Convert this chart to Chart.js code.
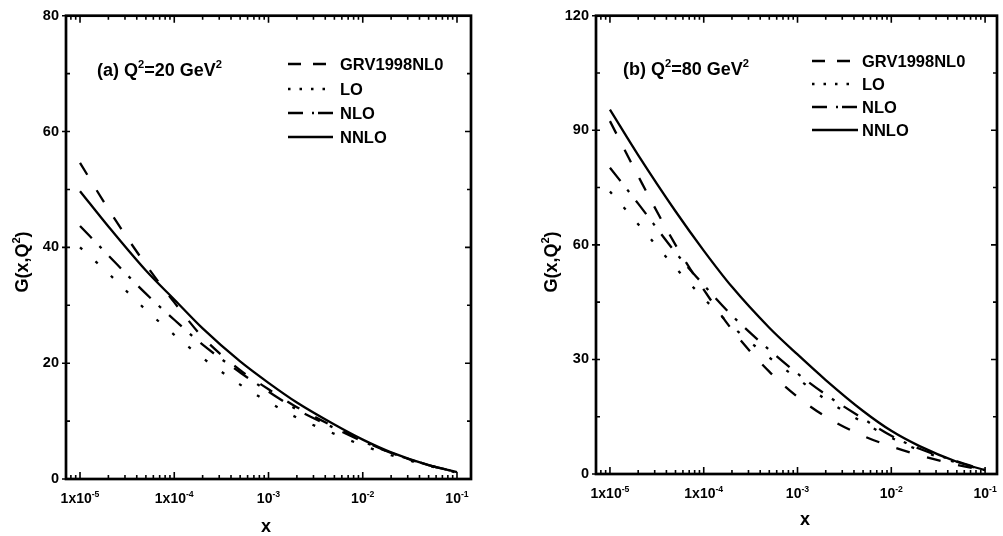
<!DOCTYPE html>
<html>
<head>
<meta charset="utf-8">
<style>
  html, body { margin: 0; padding: 0; background: #fff; }
  #wrap { position: relative; width: 1003px; height: 536px; }
  .panel { position: absolute; top: 0; height: 536px; }
  #panelA { left: 0; width: 500px; }
  #panelB { left: 500px; width: 503px; }
</style>
</head>
<body>
<div id="wrap">
  <div class="panel" id="panelA"><canvas id="chartA"></canvas></div>
  <div class="panel" id="panelB"><canvas id="chartB"></canvas></div>
</div>
<script src="https://cdn.jsdelivr.net/npm/chart.js"></script>
<script>
// x grid shared by all curves
var xValues = [1e-5, 2e-5, 5e-5, 1e-4, 2e-4, 5e-4, 1e-3, 2e-3, 5e-3, 1e-2, 2e-2, 5e-2, 1e-1];

// (a) Q^2 = 20 GeV^2
var grvA  = [54.6, 46.6, 37.0, 30.5, 24.5, 18.8, 15.5, 12.4, 9.0, 6.6, 4.5, 2.4, 1.2];
var loA   = [40.0, 35.5, 29.2, 24.9, 20.9, 16.3, 13.3, 10.6, 7.8, 5.8, 4.1, 2.3, 1.1];
var nloA  = [43.7, 38.6, 32.0, 27.5, 23.2, 18.4, 15.1, 12.0, 8.8, 6.5, 4.5, 2.4, 1.2];
var nnloA = [49.7, 43.6, 36.0, 31.0, 26.0, 20.3, 16.6, 13.2, 9.4, 6.8, 4.6, 2.4, 1.2];

// (b) Q^2 = 80 GeV^2
var grvB  = [92.4, 78.0, 60.0, 48.3, 37.8, 26.8, 20.2, 15.0, 10.0, 7.2, 4.9, 2.4, 1.0];
var loB   = [74.0, 65.4, 54.0, 46.0, 38.7, 30.5, 25.0, 19.5, 13.5, 9.5, 6.2, 3.0, 1.0];
var nloB  = [80.2, 70.8, 58.0, 49.5, 41.5, 32.5, 26.3, 20.8, 14.5, 10.0, 6.6, 3.3, 1.0];
var nnloB = [95.4, 83.5, 68.8, 58.5, 49.0, 38.3, 31.3, 24.6, 16.5, 11.3, 7.3, 3.2, 1.0];

var seriesNames = ['GRV1998NL0', 'LO', 'NLO', 'NNLO'];
var xMajorTicks = [1e-5, 1e-4, 1e-3, 1e-2, 1e-1];
var xTickLabels = [['1x10', '-5'], ['1x10', '-4'], ['10', '-3'], ['10', '-2'], ['10', '-1']];

var FONT = '"Liberation Sans", Arial, sans-serif';
var curveDash = [[14, 18], [3, 18], [17, 11, 3, 11], []];
var legendDash = [[13, 12], [2.5, 9], [15, 9, 2, 4], []];

function makeDatasets(list) {
  return list.map(function(vals, i) {
    return {
      label: seriesNames[i],
      data: xValues.map(function(x, j) { return { x: x, y: vals[j] }; }),
      borderColor: '#000',
      borderWidth: 2.3,
      borderDash: curveDash[i],
      pointRadius: 0,
      fill: false,
      cubicInterpolationMode: 'monotone'
    };
  });
}

// text with superscript pieces: parts = [[text, isSup], ...]
function drawRich(ctx, parts, x, y, size, align) {
  var supSize = size * 0.62;
  var w = 0;
  parts.forEach(function(p) {
    ctx.font = 'bold ' + (p[1] ? supSize : size) + 'px ' + FONT;
    w += ctx.measureText(p[0]).width;
  });
  var cx = align === 'center' ? x - w / 2 : x;
  ctx.textAlign = 'left';
  ctx.textBaseline = 'alphabetic';
  parts.forEach(function(p) {
    ctx.font = 'bold ' + (p[1] ? supSize : size) + 'px ' + FONT;
    ctx.fillText(p[0], cx, p[1] ? y - size * 0.42 : y);
    cx += ctx.measureText(p[0]).width;
  });
}

var framePlugin = {
  id: 'frame',
  afterDraw: function(chart, args, o) {
    var ctx = chart.ctx, a = chart.chartArea;
    var xs = chart.scales.x, ys = chart.scales.y;
    ctx.save();
    ctx.strokeStyle = '#000';
    ctx.fillStyle = '#000';
    ctx.setLineDash([]);

    // box
    ctx.lineWidth = 2.7;
    ctx.strokeRect(a.left, a.top, a.right - a.left, a.bottom - a.top);

    // x ticks (log, inward, top and bottom)
    ctx.lineWidth = 1.6;
    ctx.beginPath();
    for (var e = -6; e <= -1; e++) {
      for (var m = 1; m <= 9; m++) {
        var v = m * Math.pow(10, e);
        if (v < xs.min || v > xs.max * 1.0001) continue;
        var px = xs.getPixelForValue(v);
        var len = m === 1 ? 7 : 4;
        ctx.moveTo(px, a.bottom); ctx.lineTo(px, a.bottom - len);
        ctx.moveTo(px, a.top); ctx.lineTo(px, a.top + len);
      }
    }
    // y ticks
    var step = o.yStep / 2;
    for (var yv = ys.min; yv <= ys.max + 0.001; yv += step) {
      var py = ys.getPixelForValue(yv);
      var major = Math.round(yv / step) % 2 === 0;
      if (major) {
        ctx.moveTo(a.left - 4, py); ctx.lineTo(a.left + 4, py);
        ctx.moveTo(a.right - 6, py); ctx.lineTo(a.right, py);
      } else {
        ctx.moveTo(a.left, py); ctx.lineTo(a.left + 4, py);
        ctx.moveTo(a.right - 4, py); ctx.lineTo(a.right, py);
      }
    }
    ctx.stroke();

    // x tick labels
    xMajorTicks.forEach(function(v, i) {
      var lab = xTickLabels[i];
      drawRich(ctx, [[lab[0], false], [lab[1], true]], xs.getPixelForValue(v), o.xLabelY, 14, 'center');
    });

    // axis titles
    drawRich(ctx, [['x', false]], o.xTitleX, o.xTitleY, 18, 'center');
    ctx.save();
    ctx.translate(o.yTitleX, o.yTitleY);
    ctx.rotate(-Math.PI / 2);
    drawRich(ctx, [['G(x,Q', false], ['2', true], [')', false]], 0, 0, 18, 'center');
    ctx.restore();

    // panel label
    drawRich(ctx, o.label, o.labelX, o.labelY, 18, 'left');

    // legend
    var L = o.legend;
    seriesNames.forEach(function(name, i) {
      var ry = L.rows[i];
      ctx.lineWidth = 2.3;
      ctx.setLineDash(legendDash[i]);
      ctx.beginPath();
      ctx.moveTo(L.x0, ry); ctx.lineTo(L.x1, ry);
      ctx.stroke();
      ctx.setLineDash([]);
      ctx.font = 'bold 16.5px ' + FONT;
      ctx.textAlign = 'left';
      ctx.textBaseline = 'middle';
      ctx.fillText(name, L.tx, ry + 1);
    });
    ctx.restore();
  }
};

function makeChart(id, datasets, cfg) {
  return new Chart(document.getElementById(id), {
    type: 'line',
    data: { datasets: datasets },
    plugins: [framePlugin],
    options: {
      responsive: true,
      maintainAspectRatio: false,
      animation: false,
      events: [],
      layout: { padding: { top: cfg.top, right: cfg.right, left: 0, bottom: 0 } },
      plugins: {
        legend: { display: false },
        tooltip: { enabled: false },
        frame: cfg.frame
      },
      scales: {
        x: {
          type: 'logarithmic',
          min: cfg.xMin, max: cfg.xMax,
          grid: { display: false, drawTicks: false },
          border: { display: false },
          ticks: { display: false },
          afterFit: function(s) { s.height = cfg.xHeight; }
        },
        y: {
          min: 0, max: cfg.yMax,
          grid: { display: false, drawTicks: false },
          border: { display: false },
          ticks: {
            stepSize: cfg.frame.yStep, padding: 7, color: '#000',
            font: { family: FONT, size: 14.5, weight: 'bold' }
          },
          afterFit: function(s) { s.width = cfg.yWidth; }
        }
      }
    }
  });
}

makeChart('chartA', makeDatasets([grvA, loA, nloA, nnloA]), {
  top: 14, right: 29, xHeight: 57, yWidth: 66,
  xMin: 7.1e-6, xMax: 0.1408, yMax: 80,
  frame: {
    yStep: 20, xLabelY: 503, xTitleX: 266, xTitleY: 532, yTitleX: 28, yTitleY: 262,
    label: [['(a) Q', false], ['2', true], ['=20 GeV', false], ['2', true]], labelX: 97, labelY: 76,
    legend: { x0: 288, x1: 333, tx: 340, rows: [64, 89, 113, 137] }
  }
});

makeChart('chartB', makeDatasets([grvB, loB, nloB, nnloB]), {
  top: 14, right: 6, xHeight: 62, yWidth: 96,
  xMin: 7.1e-6, xMax: 0.134, yMax: 120,
  frame: {
    yStep: 30, xLabelY: 498, xTitleX: 305, xTitleY: 525, yTitleX: 57, yTitleY: 262,
    label: [['(b) Q', false], ['2', true], ['=80 GeV', false], ['2', true]], labelX: 123, labelY: 75,
    legend: { x0: 312, x1: 358, tx: 362, rows: [61, 84, 107, 130] }
  }
});
</script>
</body>
</html>
